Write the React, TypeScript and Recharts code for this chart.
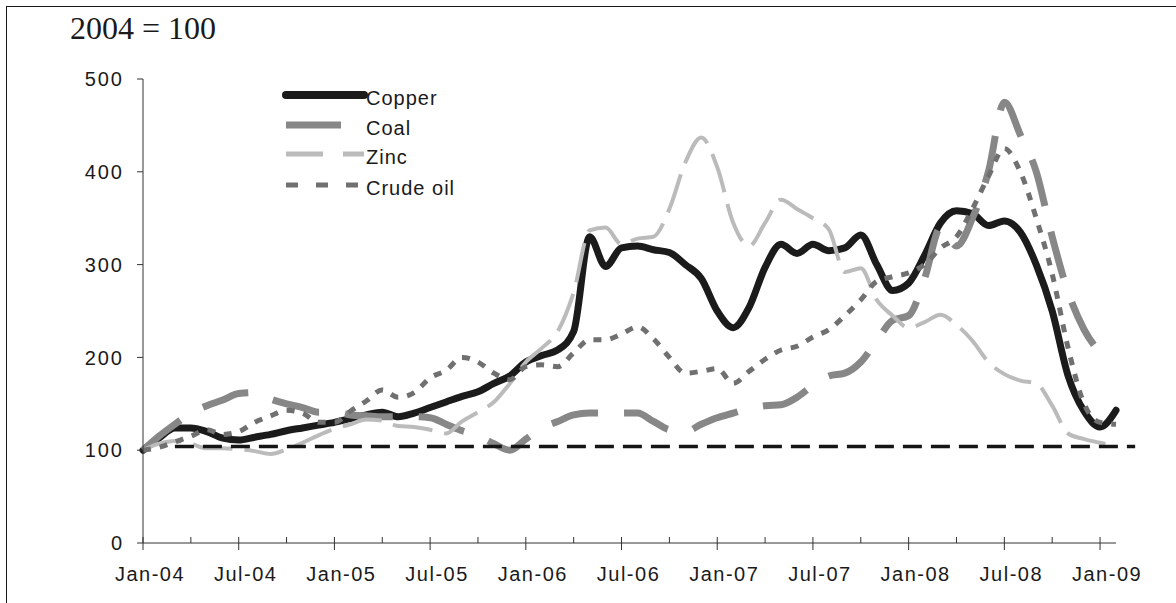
import { LineChart, Line, XAxis, YAxis, ReferenceLine, Legend } from 'recharts';

// month index 0 = Jan-04, 61 = Feb-09
const months = Array.from({ length: 62 }, (_, i) => i);

const copper = [
  100, 113, 124, 124, 120, 113, 111, 114, 117, 121, 124, 127,
  130, 134, 138, 141, 136, 140, 146, 152, 158, 163, 172, 180,
  195, 202, 208, 228, 330, 298, 318, 320, 316, 313, 300, 285,
  250, 232, 254, 297, 322, 312, 322, 315, 318, 332, 300, 272,
  280, 310, 345, 358, 355, 342, 347, 335, 300, 250, 180, 142,
  125, 143,
];

const coal = [
  100, 115, 128, 140, 148, 154, 161, 162, 155, 150, 146, 141,
  141, 138, 137, 136, 136, 136, 135, 128, 121, 116, 107, 100,
  112, 124, 131, 138, 140, 140, 140, 140, 131, 122, 120, 128,
  135, 140, 145, 148, 149, 157, 170, 180, 183, 195, 218, 240,
  245, 285, 340, 320, 350, 400, 475, 440, 400, 330, 270, 230,
  205, null,
];

const zinc = [
  100, 107, 110, 107, 102, 102, 101, 99, 96, 101, 108, 116,
  123, 128, 133, 132, 126, 125, 122, 118, 131, 141, 152, 172,
  195, 210, 228, 270, 337, 340, 322, 328, 330, 360, 410, 437,
  405, 345, 320, 345, 370, 360, 350, 338, 292, 296, 262, 245,
  232, 238, 246, 235, 218, 195, 182, 175, 172, 148, 118, 112,
  108, 104,
];

const crude = [
  100, 103, 109, 115, 122, 117, 120, 130, 137, 143, 140, 130,
  130, 142, 153, 165, 157, 162, 178, 186, 200, 195, 183, 176,
  190, 192, 190, 205, 219, 219, 225, 233, 220, 200, 183, 185,
  188, 172, 185, 198, 208, 212, 222, 230, 245, 262, 282, 287,
  291, 300, 318, 330, 360, 395, 425, 400, 350, 290, 210, 150,
  130, 128,
];

const tickMonths = [0, 3, 6, 9, 12, 15, 18, 21, 24, 27, 30, 33, 36, 39, 42, 45, 48, 51, 54, 57, 60];
const tickLabels = ['Jan-04', 'Jul-04', 'Jan-05', 'Jul-05', 'Jan-06', 'Jul-06', 'Jan-07', 'Jul-07', 'Jan-08', 'Jul-08', 'Jan-09'];
const yTicks = [0, 100, 200, 300, 400, 500];

const baseline = 104;
const baselineFrom = 2;
const baselineTo = 62.2;

const data = months.map((m) => ({
  m,
  copper: copper[m],
  coal: coal[m],
  zinc: zinc[m],
  crude: crude[m],
}));

const FONT = '"Liberation Sans", Arial, sans-serif';

const legendOrder = ['copper', 'coal', 'zinc', 'crude'];
const legendLook: Record<string, { color: string; width: number; dash?: string; to: number; cap?: 'round' | 'butt' }> = {
  copper: { color: '#1b1b1b', width: 8, to: 84, cap: 'round' },
  coal: { color: '#878787', width: 7, to: 61 },
  zinc: { color: '#bbbbbb', width: 5, dash: '37 20', to: 84 },
  crude: { color: '#707070', width: 5, dash: '12 18', to: 84 },
};

const rowY = [13, 43, 72, 103];

const LegendBox = (props: any) => {
  const items = [...(props.payload || [])].sort(
    (a: any, b: any) => legendOrder.indexOf(a.dataKey) - legendOrder.indexOf(b.dataKey),
  );
  return (
    <svg width={220} height={120}>
      {items.map((item: any, i: number) => {
        const look = legendLook[item.dataKey];
        const y = rowY[i];
        return (
          <g key={item.dataKey}>
            <line
              x1={6}
              x2={look.to}
              y1={y}
              y2={y}
              stroke={look.color}
              strokeWidth={look.width}
              strokeDasharray={look.dash}
              strokeLinecap={look.cap || 'butt'}
            />
            <text x={86} y={y + 10} fontSize={20} letterSpacing={1} fill="#1a1a1a" fontFamily={FONT}>
              {item.value}
            </text>
          </g>
        );
      })}
    </svg>
  );
};

const MonthTick = ({ x, y, payload }: any) => {
  const major = payload.value % 6 === 0;
  return (
    <g>
      <line x1={x} x2={x} y1={y - 6} y2={major ? y + 7 : y} stroke="#333" strokeWidth={1} />
      {major && (
        <text x={x + 7} y={y + 38} textAnchor="middle" fontSize={20} letterSpacing={1.5} fill="#1a1a1a" fontFamily={FONT}>
          {tickLabels[payload.value / 6]}
        </text>
      )}
    </g>
  );
};

export default function App() {
  return (
    <>
      <div
        style={{
          position: 'absolute',
          left: 6,
          top: 6,
          width: 1170,
          height: 597,
          borderTop: '1.5px solid #1a1a1a',
          borderLeft: '1.5px solid #1a1a1a',
          boxSizing: 'border-box',
        }}
      />
      <div
        style={{
          position: 'absolute',
          left: 70,
          top: 12,
          fontFamily: '"Liberation Serif", "Times New Roman", serif',
          fontSize: 32,
          lineHeight: 1,
          color: '#1a1a1a',
        }}
      >
        2004 = 100
      </div>
      <div style={{ position: 'absolute', left: 0, top: 0 }}>
        <LineChart width={1176} height={603} data={data} margin={{ top: 79, right: 60, bottom: 30, left: 83 }}>
          <XAxis
            dataKey="m"
            type="number"
            domain={[0, 61]}
            ticks={tickMonths}
            interval={0}
            tick={<MonthTick />}
            tickLine={false}
            tickSize={0}
            tickMargin={0}
            height={30}
            axisLine={{ stroke: '#333', strokeWidth: 1 }}
          />
          <YAxis
            domain={[0, 500]}
            ticks={yTicks}
            width={60}
            tickSize={6}
            tickMargin={13}
            axisLine={{ stroke: '#333', strokeWidth: 1 }}
            tickLine={{ stroke: '#333', strokeWidth: 1 }}
            tick={{ fontSize: 20, fill: '#1a1a1a', fontFamily: FONT, letterSpacing: 2 }}
          />
          <Legend
            layout="vertical"
            align="center"
            verticalAlign="middle"
            content={LegendBox}
            wrapperStyle={{ left: 280, top: 82, width: 220, height: 120 }}
          />
          <Line
            dataKey="copper"
            name="Copper"
            type="monotone"
            stroke="#1b1b1b"
            strokeWidth={7}
            strokeLinecap="round"
            strokeLinejoin="round"
            dot={false}
            isAnimationActive={false}
          />
          <Line
            dataKey="coal"
            name="Coal"
            type="monotone"
            stroke="#878787"
            strokeWidth={7}
            strokeDasharray="48 26"
            dot={false}
            isAnimationActive={false}
          />
          <Line
            dataKey="zinc"
            name="Zinc"
            type="monotone"
            stroke="#bbbbbb"
            strokeWidth={4}
            strokeDasharray="40 12"
            dot={false}
            isAnimationActive={false}
          />
          <Line
            dataKey="crude"
            name="Crude oil"
            type="monotone"
            stroke="#707070"
            strokeWidth={5}
            strokeDasharray="8 9"
            dot={false}
            isAnimationActive={false}
          />
          <ReferenceLine
            segment={[
              { x: baselineFrom, y: baseline },
              { x: baselineTo, y: baseline },
            ]}
            ifOverflow="visible"
            stroke="#151515"
            strokeWidth={3.5}
            strokeDasharray="19 9"
          />
        </LineChart>
      </div>
    </>
  );
}
